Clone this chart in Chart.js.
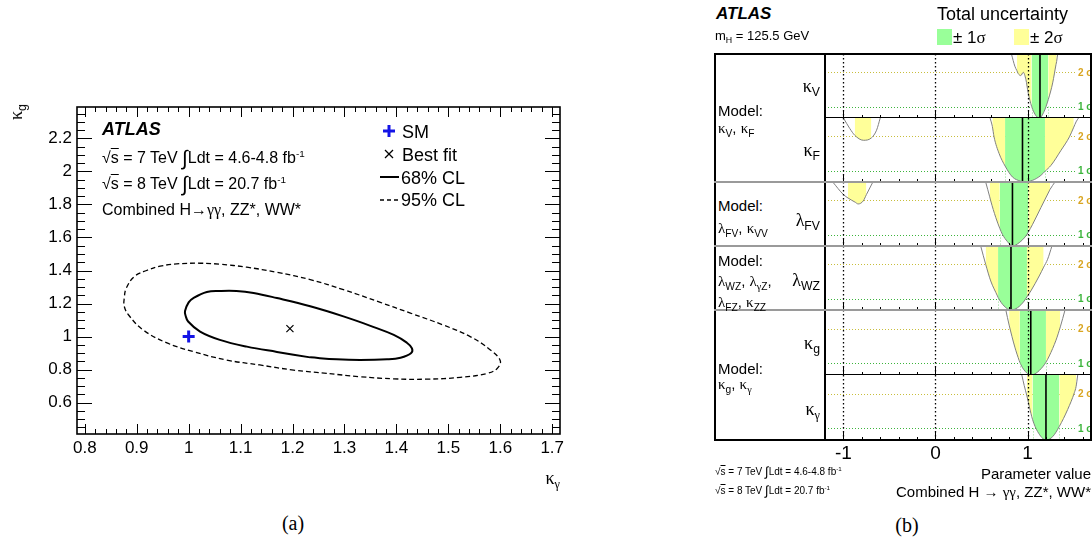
<!DOCTYPE html>
<html>
<head>
<meta charset="utf-8">
<script src="https://cdn.jsdelivr.net/npm/chart.js@4.4.1/dist/chart.umd.min.js"></script>
<style>
  html, body { margin: 0; padding: 0; background: #fff; }
  body { width: 1092px; height: 540px; position: relative; overflow: hidden;
         font-family: "Liberation Sans", Arial, sans-serif; color: #000; }
  canvas { position: absolute; }
  .t { position: absolute; white-space: nowrap; line-height: 1; transform: translateY(-50%); z-index: 3; }
  .r { transform: translate(-100%, -50%); }
  .c { transform: translate(-50%, -50%); }
  .g { font-family: "Liberation Serif", "DejaVu Serif", serif; }
  .ov { text-decoration: overline; }
  .int { font-size: 1.3em; line-height: 0; vertical-align: -0.08em; }
  sub { font-size: 0.68em; vertical-align: -0.35em; line-height: 0; }
  sup { font-size: 0.62em; vertical-align: 0.6em; line-height: 0; }
  .atlas { font-weight: bold; font-style: italic; }
  .ln { position: absolute; background: #000; z-index: 2; }
  .sep { position: absolute; background: #9a9a9a; z-index: 2; }
  .box { position: absolute; }
</style>
</head>
<body>

<!-- left: 2D scan -->
<canvas id="cLeft" width="600" height="500" style="left:0;top:0"></canvas>
<div class="t atlas" style="left:102px;top:129px;font-size:18px">ATLAS</div>
<div class="t" style="left:102px;top:158px;font-size:16px">√<span class="ov">s</span> = 7 TeV <span class="int">∫</span>Ldt = 4.6-4.8 fb<sup>-1</sup></div>
<div class="t" style="left:102px;top:184px;font-size:16px">√<span class="ov">s</span> = 8 TeV <span class="int">∫</span>Ldt = 20.7 fb<sup>-1</sup></div>
<div class="t" style="left:102px;top:210px;font-size:16px">Combined H→<span class="g">γγ</span>, ZZ*, WW*</div>
<div class="t" style="left:402px;top:132px;font-size:18px">SM</div>
<div class="t" style="left:402px;top:155px;font-size:18px">Best fit</div>
<div class="t" style="left:401px;top:178px;font-size:18px">68% CL</div>
<div class="t" style="left:401px;top:200px;font-size:18px">95% CL</div>
<div class="t r" style="left:560px;top:478px;font-size:18px"><span class="g">κ</span><sub class="g">γ</sub></div>
<div class="t" style="left:16px;top:112px;font-size:18px;transform:translate(-50%,-50%) rotate(-90deg)"><span class="g">κ</span><sub>g</sub></div>
<div class="t c g" style="left:293px;top:523px;font-size:20px">(a)</div>

<!-- right: 1D scans -->
<div class="t atlas" style="left:716px;top:13px;font-size:17px">ATLAS</div>
<div class="t" style="left:715px;top:35px;font-size:13px">m<sub>H</sub> = 125.5 GeV</div>
<div class="t" style="left:937px;top:14px;font-size:18px">Total uncertainty</div>
<div class="box" style="left:937px;top:29px;width:15px;height:16px;background:#99ff99"></div>
<div class="t" style="left:953px;top:37px;font-size:17px">± 1<span class="g">σ</span></div>
<div class="box" style="left:1014px;top:29px;width:15px;height:16px;background:#ffff99"></div>
<div class="t" style="left:1030px;top:37px;font-size:17px">± 2<span class="g">σ</span></div>

<canvas id="rKV" width="267" height="64" style="left:825px;top:54px"></canvas>
<canvas id="rKF" width="267" height="64" style="left:825px;top:118px"></canvas>
<canvas id="rLFV" width="267" height="64" style="left:825px;top:182px"></canvas>
<canvas id="rLWZ" width="267" height="64" style="left:825px;top:246px"></canvas>
<canvas id="rKG" width="267" height="65" style="left:825px;top:310px"></canvas>
<canvas id="rKGam" width="267" height="95" style="left:825px;top:375px"></canvas>

<div class="ln" style="left:714px;top:53px;width:378px;height:2px"></div>
<div class="ln" style="left:714px;top:439px;width:378px;height:2px"></div>
<div class="ln" style="left:714px;top:53px;width:2px;height:388px"></div>
<div class="ln" style="left:1090px;top:53px;width:2px;height:388px"></div>
<div class="ln" style="left:824px;top:53px;width:2px;height:388px"></div>
<div class="ln" style="left:825px;top:117px;width:267px;height:1px"></div>
<div class="ln" style="left:825px;top:374px;width:267px;height:1px"></div>
<div class="sep" style="left:714px;top:181px;width:378px;height:2px"></div>
<div class="sep" style="left:714px;top:245px;width:378px;height:2px"></div>
<div class="sep" style="left:714px;top:309px;width:378px;height:2px"></div>

<div class="t" style="left:718px;top:110px;font-size:15px">Model:</div>
<div class="t" style="left:718px;top:128px;font-size:15px"><span class="g">κ</span><sub>V</sub>, <span class="g">κ</span><sub>F</sub></div>
<div class="t" style="left:718px;top:205px;font-size:15px">Model:</div>
<div class="t" style="left:718px;top:228px;font-size:15px"><span class="g">λ</span><sub>FV</sub>, <span class="g">κ</span><sub>VV</sub></div>
<div class="t" style="left:718px;top:260px;font-size:15px">Model:</div>
<div class="t" style="left:718px;top:281px;font-size:15px"><span class="g">λ</span><sub>WZ</sub>, <span class="g">λ</span><sub><span class="g">γ</span>Z</sub>,</div>
<div class="t" style="left:718px;top:302px;font-size:15px"><span class="g">λ</span><sub>FZ</sub>, <span class="g">κ</span><sub>ZZ</sub></div>
<div class="t" style="left:718px;top:368px;font-size:15px">Model:</div>
<div class="t" style="left:718px;top:384px;font-size:15px"><span class="g">κ</span><sub>g</sub>, <span class="g">κ</span><sub class="g">γ</sub></div>

<div class="t r" style="left:820px;top:86px;font-size:18px"><span class="g">κ</span><sub>V</sub></div>
<div class="t r" style="left:820px;top:150px;font-size:18px"><span class="g">κ</span><sub>F</sub></div>
<div class="t r" style="left:820px;top:220px;font-size:18px"><span class="g">λ</span><sub>FV</sub></div>
<div class="t r" style="left:820px;top:280px;font-size:18px"><span class="g">λ</span><sub>WZ</sub></div>
<div class="t r" style="left:820px;top:343px;font-size:18px"><span class="g">κ</span><sub>g</sub></div>
<div class="t r" style="left:820px;top:409px;font-size:18px"><span class="g">κ</span><sub class="g">γ</sub></div>

<div class="t" style="left:715px;top:472px;font-size:10px">√<span class="ov">s</span> = 7 TeV <span class="int">∫</span>Ldt = 4.6-4.8 fb<sup>-1</sup></div>
<div class="t" style="left:715px;top:491px;font-size:10px">√<span class="ov">s</span> = 8 TeV <span class="int">∫</span>Ldt = 20.7 fb<sup>-1</sup></div>
<div class="t r" style="left:1091px;top:473px;font-size:15px">Parameter value</div>
<div class="t r" style="left:1091px;top:492px;font-size:15px">Combined H → <span class="g">γγ</span>, ZZ*, WW*</div>
<div class="t c g" style="left:907px;top:525px;font-size:20px">(b)</div>

<script>
// ---- (a) kappa_gamma vs kappa_g plane ----
const kgamTicks = [0.8, 0.9, 1, 1.1, 1.2, 1.3, 1.4, 1.5, 1.6, 1.7];
const kgamLabels = ['0.8', '0.9', '1', '1.1', '1.2', '1.3', '1.4', '1.5', '1.6', '1.7'];
const kgluTicks = [0.6, 0.8, 1, 1.2, 1.4, 1.6, 1.8, 2, 2.2];
const kgluLabels = ['0.6', '0.8', '1', '1.2', '1.4', '1.6', '1.8', '2', '2.2'];

// 68% CL contour (closed loop, starts on the lower edge)
const c68x = [1.234, 1.170, 1.112, 1.060, 1.022, 0.999, 0.994, 0.993, 1.000, 1.009, 1.035, 1.060, 1.092, 1.125,
              1.170, 1.234, 1.298, 1.350, 1.395, 1.420, 1.430, 1.428, 1.408, 1.382, 1.330, 1.285, 1.234];
const c68y = [0.874, 0.907, 0.939, 0.980, 1.030, 1.091, 1.128, 1.155, 1.207, 1.233, 1.270, 1.276, 1.276, 1.264,
              1.233, 1.183, 1.122, 1.065, 1.010, 0.963, 0.929, 0.899, 0.872, 0.862, 0.858, 0.862, 0.874];
// 95% CL contour
const c95x = [1.266, 1.202, 1.137, 1.073, 1.009, 0.957, 0.912, 0.884, 0.876, 0.876, 0.880, 0.896, 0.919, 0.945,
              0.977, 1.022, 1.060, 1.112, 1.170, 1.234, 1.298, 1.369, 1.427, 1.491, 1.542, 1.581, 1.600, 1.594,
              1.575, 1.523, 1.459, 1.395, 1.330, 1.266];
const c95y = [0.777, 0.797, 0.828, 0.858, 0.909, 0.963, 1.041, 1.132, 1.183, 1.233, 1.294, 1.365, 1.400, 1.426,
              1.440, 1.444, 1.438, 1.420, 1.389, 1.345, 1.284, 1.207, 1.142, 1.069, 1.000, 0.919, 0.854, 0.807,
              0.777, 0.753, 0.742, 0.744, 0.757, 0.777];
const smPoint = [1, 1];
const bestFit2d = [1.195, 1.048];

// ---- (b) profile likelihood scans, one row per parameter ----
const paramTicks = [-1, 0, 1];
const paramLabels = ['-1', '0', '1'];
const sigmaLevels = [1, 4];
const sigmaNames = ['1 σ', '2 σ'];

const kVx = [0.825, 0.862, 0.884, 0.898, 0.927, 0.953, 0.982, 1.007, 1.044, 1.091, 1.13, 1.18, 1.225, 1.273, 1.309, 1.316, 1.327];
const kVy = [5.6, 4.53, 4.15, 3.89, 3.71, 4.0, 3.36, 2.19, 1.02, 0.2, 0, 0.58, 1.61, 3.07, 4.68, 4.95, 5.6];
const kVbest = 1.135, kV1s = [1.044, 1.225], kV2s = [0.884, 1.316];

const kFx = [0.593, 0.618, 0.636, 0.691, 0.756, 0.836, 0.927, 0.95, 1.055, 1.145, 1.189, 1.255, 1.364, 1.455, 1.502, 1.527, 1.553];
const kFy = [5.6, 4.85, 3.95, 2.49, 1.4, 0.44, 0.06, 0, 0.15, 0.58, 0.93, 1.46, 2.78, 3.95, 4.8, 5.26, 5.6];
const kFbest = 0.945, kF1s = [0.756, 1.189], kF2s = [0.618, 1.502];
const kFnegX = [-1.0, -0.93, -0.877, -0.783, -0.696, -0.64, -0.6];
const kFnegY = [5.6, 4.67, 4.09, 3.65, 3.86, 4.53, 5.6];
const kFneg2s = [-0.877, -0.696];

const lFVx = [0.545, 0.589, 0.6, 0.655, 0.698, 0.727, 0.782, 0.836, 0.909, 0.982, 1.007, 1.055, 1.145, 1.236, 1.244, 1.298];
const lFVy = [5.6, 4.3, 3.95, 2.49, 1.55, 1.02, 0.38, 0, 0.29, 0.88, 1.2, 1.9, 3.36, 4.82, 4.95, 5.6];
const lFVbest = 0.836, lFV1s = [0.698, 1.007], lFV2s = [0.589, 1.244];
const lFVnegX = [-1.116, -1.0, -0.95, -0.87, -0.84, -0.785, -0.75, -0.68];
const lFVnegY = [5.6, 4.5, 4.2, 3.82, 3.68, 3.94, 4.5, 5.6];
const lFVneg2s = [-0.95, -0.75];

const lWZx = [0.491, 0.545, 0.6, 0.673, 0.68, 0.745, 0.82, 0.891, 0.964, 0.993, 1.036, 1.127, 1.175, 1.218, 1.265];
const lWZy = [5.6, 4.0, 2.54, 1.23, 1.1, 0.35, 0, 0.2, 0.79, 1.15, 1.67, 2.98, 3.75, 4.44, 5.6];
const lWZbest = 0.82, lWZ1s = [0.68, 0.993], lWZ2s = [0.545, 1.175];

const kGx = [0.764, 0.8, 0.862, 0.909, 0.916, 0.956, 1.035, 1.091, 1.164, 1.2, 1.236, 1.309, 1.356, 1.407];
const kGy = [5.6, 4.3, 2.4, 1.25, 1.1, 0.5, 0, 0.15, 0.7, 1.1, 1.64, 3.0, 4.15, 5.6];
const kGbest = 1.035, kG1s = [0.916, 1.2], kG2s = [0.8, 1.356];

const kGamX = [0.938, 0.964, 0.993, 1.018, 1.055, 1.109, 1.2, 1.273, 1.345, 1.436, 1.509, 1.527, 1.545];
const kGamY = [5.6, 4.68, 3.8, 2.92, 1.75, 0.73, 0, 0.29, 1.17, 2.63, 4.09, 4.6, 5.6];
const kGamBest = 1.2, kGam1s = [1.055, 1.345], kGam2s = [0.993, 1.527];

const GREEN = '#99ff99';
const YELLOW = '#ffff99';
const PAR_MIN = -1.2, PAR_MAX = 1.7;
const ROW_MIN = 0, ROW_MAX = 5.6;

Chart.defaults.font.family = '"Liberation Sans", Arial, sans-serif';
Chart.defaults.color = '#000';

const toPts = (xs, ys) => xs.map((x, i) => ({x, y: ys[i]}));

// ROOT style frame with inward ticks on all four sides, plus legend symbols
const rootFrame = {
  id: 'rootFrame',
  afterDatasetsDraw(chart) {
    const {ctx, chartArea: a, scales: {x, y}} = chart;
    const seg = (x0, y0, x1, y1) => { ctx.beginPath(); ctx.moveTo(x0, y0); ctx.lineTo(x1, y1); ctx.stroke(); };
    ctx.save();
    ctx.strokeStyle = '#000';
    ctx.lineWidth = 1;
    for (let k = 39; k <= 86; k++) {
      const v = k / 50;
      if (v < x.min || v > x.max) continue;
      const len = k % 5 === 0 ? 10 : 5;
      const px = Math.round(x.getPixelForValue(v)) + 0.5;
      seg(px, a.bottom, px, a.bottom - len);
      seg(px, a.top, px, a.top + len);
    }
    for (let k = 8; k <= 48; k++) {
      const v = k / 20;
      if (v < y.min || v > y.max) continue;
      const len = k % 4 === 0 ? 15 : 8;
      const py = Math.round(y.getPixelForValue(v)) + 0.5;
      seg(a.left, py, a.left + len, py);
      seg(a.right, py, a.right - len, py);
    }
    ctx.lineWidth = 1.6;
    ctx.strokeRect(a.left, a.top, a.right - a.left, a.bottom - a.top);

    // legend symbols
    ctx.strokeStyle = '#1414e6';
    ctx.lineWidth = 3;
    seg(383, 131, 395, 131);
    seg(389, 125, 389, 137);
    ctx.strokeStyle = '#000';
    ctx.lineWidth = 1.2;
    seg(385, 150, 393, 158);
    seg(385, 158, 393, 150);
    ctx.lineWidth = 2;
    seg(380, 177, 399, 177);
    ctx.lineWidth = 1.3;
    ctx.setLineDash([4, 3]);
    seg(380, 200, 399, 200);
    ctx.restore();
  }
};

new Chart(document.getElementById('cLeft'), {
  type: 'scatter',
  data: {
    datasets: [
      { label: 'SM', data: [{x: smPoint[0], y: smPoint[1]}], pointStyle: 'cross', pointRadius: 6,
        borderWidth: 3, borderColor: '#1414e6' },
      { label: 'Best fit', data: [{x: bestFit2d[0], y: bestFit2d[1]}], pointStyle: 'crossRot', pointRadius: 5,
        borderWidth: 1.2, borderColor: '#000' },
      { label: '68% CL', data: toPts(c68x, c68y), showLine: true, pointRadius: 0, borderColor: '#000',
        borderWidth: 2, tension: 0.4, fill: false },
      { label: '95% CL', data: toPts(c95x, c95y), showLine: true, pointRadius: 0, borderColor: '#000',
        borderWidth: 1.3, borderDash: [5, 3], tension: 0.4, fill: false }
    ]
  },
  options: {
    responsive: false,
    animation: false,
    events: [],
    layout: { padding: { top: 107, right: 40, left: 0, bottom: 0 } },
    plugins: { legend: { display: false }, tooltip: { enabled: false } },
    scales: {
      x: {
        type: 'linear', min: 0.785, max: 1.715,
        afterBuildTicks: s => { s.ticks = kgamTicks.map(v => ({value: v})); },
        afterFit: s => { s.height = 66; },
        grid: { display: false, drawTicks: false },
        border: { display: false },
        ticks: { font: { size: 17 }, color: '#000', padding: 4, maxRotation: 0, autoSkip: false,
                 callback: (v, i) => kgamLabels[i] }
      },
      y: {
        type: 'linear', min: 0.41, max: 2.39,
        afterBuildTicks: s => { s.ticks = kgluTicks.map(v => ({value: v})); },
        afterFit: s => { s.width = 77; },
        grid: { display: false, drawTicks: false },
        border: { display: false },
        ticks: { font: { size: 17 }, color: '#000', padding: 5, autoSkip: false,
                 callback: (v, i) => kgluLabels[i] }
      }
    }
  },
  plugins: [rootFrame]
});

// colour of the area above the curve between two scan points
function bandFill(one, two) {
  return c => {
    const m = (c.p0.parsed.x + c.p1.parsed.x) / 2;
    if (one && m > one[0] && m < one[1]) return GREEN;
    if (two && m > two[0] && m < two[1]) return YELLOW;
    return '#ffffff';
  };
}

// sigma levels, reference lines at -1/0/1, ticks along each row
const rowDecor = {
  id: 'rowDecor',
  beforeDatasetsDraw(chart) {
    const {ctx, chartArea: a, scales: {y}} = chart;
    ctx.save();
    ctx.lineWidth = 1;
    ctx.setLineDash([1, 2]);
    const cols = ['#3cb43c', '#c8be3c'];
    sigmaLevels.forEach((lv, i) => {
      const py = Math.round(y.getPixelForValue(lv)) + 0.5;
      ctx.strokeStyle = cols[i];
      ctx.beginPath(); ctx.moveTo(a.left, py); ctx.lineTo(a.right - 17, py); ctx.stroke();
    });
    ctx.restore();
  },
  afterDatasetsDraw(chart, args, opts) {
    const {ctx, chartArea: a, scales: {x, y}} = chart;
    const seg = (x0, y0, x1, y1) => { ctx.beginPath(); ctx.moveTo(x0, y0); ctx.lineTo(x1, y1); ctx.stroke(); };
    ctx.save();
    // 1 sigma interval edges dropped to the axis
    if (opts.one) {
      ctx.strokeStyle = '#8ed88e';
      ctx.lineWidth = 1;
      ctx.setLineDash([1, 2]);
      opts.one.forEach(v => {
        const px = Math.round(x.getPixelForValue(v)) + 0.5;
        seg(px, y.getPixelForValue(sigmaLevels[0]), px, a.bottom);
      });
    }
    // dotted reference lines
    ctx.strokeStyle = '#000';
    ctx.lineWidth = 1.3;
    ctx.setLineDash([1.5, 2.5]);
    paramTicks.forEach(v => {
      const px = Math.round(x.getPixelForValue(v)) + 0.5;
      seg(px, a.top, px, a.bottom);
    });
    // ticks
    ctx.setLineDash([]);
    ctx.lineWidth = 1;
    for (let k = -6; k <= 8; k++) {
      const px = Math.round(x.getPixelForValue(k / 5)) + 0.5;
      seg(px, a.bottom, px, a.bottom - (k % 5 === 0 ? 8 : 3));
    }
    // sigma labels at the right edge
    ctx.font = 'bold 10px "Liberation Sans", Arial, sans-serif';
    ctx.textBaseline = 'middle';
    const tcol = ['#3cb43c', '#d9a521'];
    sigmaLevels.forEach((lv, i) => {
      ctx.fillStyle = tcol[i];
      ctx.fillText(sigmaNames[i], a.right - 14, y.getPixelForValue(lv) + 1);
    });
    ctx.restore();
  }
};

const rows = [
  { id: 'rKV', best: kVbest, one: kV1s, curves: [[kVx, kVy, kV1s, kV2s]] },
  { id: 'rKF', best: kFbest, one: kF1s, curves: [[kFx, kFy, kF1s, kF2s], [kFnegX, kFnegY, null, kFneg2s]] },
  { id: 'rLFV', best: lFVbest, one: lFV1s, curves: [[lFVx, lFVy, lFV1s, lFV2s], [lFVnegX, lFVnegY, null, lFVneg2s]] },
  { id: 'rLWZ', best: lWZbest, one: lWZ1s, curves: [[lWZx, lWZy, lWZ1s, lWZ2s]] },
  { id: 'rKG', best: kGbest, one: kG1s, curves: [[kGx, kGy, kG1s, kG2s]] },
  { id: 'rKGam', best: kGamBest, one: kGam1s, curves: [[kGamX, kGamY, kGam1s, kGam2s]] }
];

rows.forEach((r, i) => {
  const last = i === rows.length - 1;
  const sets = [{
    data: [{x: r.best, y: ROW_MIN}, {x: r.best, y: ROW_MAX}],
    pointRadius: 0, borderColor: '#000', borderWidth: 1.6, fill: false
  }];
  r.curves.forEach(([xs, ys, one, two]) => sets.push({
    data: toPts(xs, ys), pointRadius: 0, borderColor: '#808080', borderWidth: 1,
    cubicInterpolationMode: 'monotone', fill: 'end',
    segment: { backgroundColor: bandFill(one, two) }
  }));
  const xAxis = {
    type: 'linear', min: PAR_MIN, max: PAR_MAX, display: last,
    grid: { display: false, drawTicks: false },
    border: { display: false }
  };
  if (last) {
    // only the bottom row carries the parameter axis labels
    Object.assign(xAxis, {
      afterBuildTicks: s => { s.ticks = paramTicks.map(v => ({value: v})); },
      afterFit: s => { s.height = 30; },
      ticks: { font: { size: 19 }, color: '#000', padding: 2, maxRotation: 0, autoSkip: false,
               callback: (v, k) => paramLabels[k] }
    });
  }
  new Chart(document.getElementById(r.id), {
    type: 'line',
    data: { datasets: sets },
    options: {
      responsive: false,
      animation: false,
      events: [],
      layout: { padding: 0 },
      plugins: { legend: { display: false }, tooltip: { enabled: false }, rowDecor: { one: r.one } },
      scales: {
        x: xAxis,
        y: { type: 'linear', min: ROW_MIN, max: ROW_MAX, display: false }
      }
    },
    plugins: [rowDecor]
  });
});
</script>
</body>
</html>
